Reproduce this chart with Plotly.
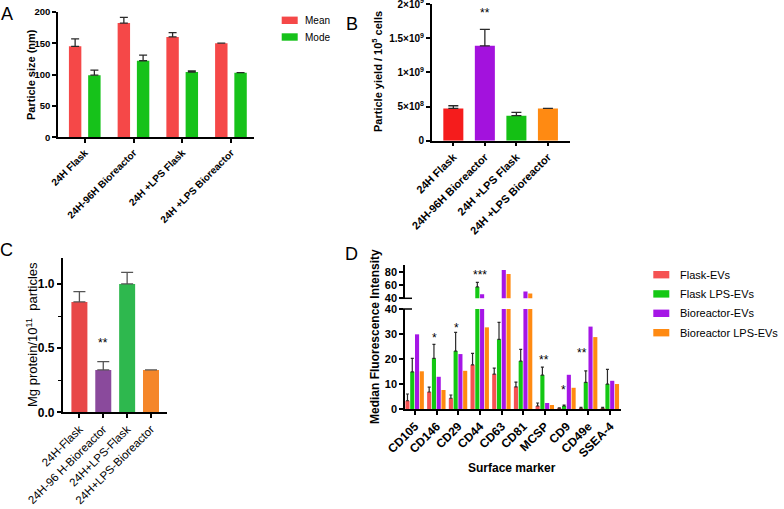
import plotly.graph_objects as go

W, H = 784, 509
def fx(p): return p / W
def fy(p): return 1 - p / H

FONT = "Liberation Sans, Arial, sans-serif"

# ---------------- data ----------------
a_groups = ["24H Flask", "24H-96H Bioreactor", "24H +LPS Flask", "24H +LPS Bioreactor"]
a_series = ["Mean", "Mode"]
a_mean = [145, 182, 160, 150]
a_mean_err = [12, 9, 7, None]
a_mode = [99, 122, 104, 103]
a_mode_err = [8, 9, 2, None]
a_yticks = [0, 50, 100, 150, 200]

b_groups = ["24H Flask", "24H-96H Bioreactor", "24H +LPS Flask", "24H +LPS Bioreactor"]
b_yield = [4.72e8, 1.39e9, 3.66e8, 4.72e8]
b_err = [0.4e8, 0.24e9, 0.5e8, None]
b_ytickvals = [0, 5e8, 1e9, 1.5e9, 2e9]
b_yticktext = ["0", "5×10<sup>8</sup>", "1×10<sup>9</sup>", "1.5×10<sup>9</sup>", "2×10<sup>9</sup>"]

c_groups = ["24H-Flask", "24H-96 H-Bioreactor", "24H+LPS-Flask", "24H+LPS-Bioreactor"]
c_protein = [0.86, 0.33, 1.0, 0.33]
c_err = [0.08, 0.065, 0.09, None]
c_yticks = [0.0, 0.5, 1.0]
c_yticktext = ["0.0", "0.5", "1.0"]

d_markers = ["CD105", "CD146", "CD29", "CD44", "CD63", "CD81", "MCSP", "CD9", "CD49e", "SSEA-4"]
d_series = ["Flask-EVs", "Flask LPS-EVs", "Bioreactor-EVs", "Bioreactor LPS-EVs"]
d_flask = [3.3, 6.8, 4.3, 17.7, 14.0, 8.9, 1.2, 0.3, 0.3, 0.3]
d_flask_err = [2.7, 2.0, 1.3, 4.6, 2.4, 1.9, 1.2, 0.2, 0.4, 0.4]
d_flask_lps = [14.9, 20.3, 23.2, 57.0, 27.9, 19.2, 13.6, 1.2, 10.7, 10.0]
d_flask_lps_err = [5.4, 5.6, 7.5, 7.0, 6.8, 4.7, 3.2, 0.4, 4.6, 5.9]
d_bio = [29.9, 12.9, 22.0, 46.0, 82.5, 50.0, 2.4, 13.7, 33.0, 11.3]
d_bio_lps = [15.1, 7.6, 15.3, 32.7, 76.5, 47.0, 1.6, 8.5, 28.8, 10.0]
d_low_ticks = [0, 10, 20, 30, 40]
d_high_ticks = [40, 60, 80]
d_star_idx = [1, 2, 6, 7, 8]
d_star_text = ["*", "*", "**", "*", "**"]
d_star_y = [28.5, 32.3, 19.7, 7.8, 22.3]
d_star_dx = [-0.12, -0.1, -0.06, -0.17, -0.28]
d_high_star_idx = 3
d_high_star_text = "***"
d_high_star_y = 74.7

# ---------------- styles ----------------
a_colors = ["#F54848", "#16C21A"]
b_colors = ["#F51C1C", "#A312DD", "#14C014", "#FF8A12"]
c_colors = ["#E84848", "#8A4A9C", "#2EB84E", "#F5862A"]
d_colors = ["#F55252", "#14C814", "#A516E6", "#FF8A12"]
ERR = "#2a2a2a"

def ax(**kw):
    base = dict(showline=True, linecolor="black", linewidth=1.5, ticks="outside",
                ticklen=4, tickwidth=1.5, tickcolor="black", showgrid=False,
                zeroline=False, fixedrange=True, automargin=False,
                ticklabeloverflow="allow",
                tickfont=dict(family=FONT, size=10, color="black", weight="bold"))
    base.update(kw)
    return base

def errs(vals):
    return dict(type="data", symmetric=False, array=vals,
                arrayminus=[0] * len(vals), color=ERR, thickness=1.3, width=4)

fig = go.Figure()

# Panel A
for name, vals, e, col, off in [(a_series[0], a_mean, a_mean_err, a_colors[0], -0.33),
                                (a_series[1], a_mode, a_mode_err, a_colors[1], 0.065)]:
    fig.add_trace(go.Bar(x=a_groups, y=vals, name=name, marker=dict(color=col, line_width=0),
                         width=0.255, offset=off, error_y=errs(e), xaxis="x", yaxis="y"))

# Panel B
fig.add_trace(go.Bar(x=b_groups, y=b_yield, marker=dict(color=b_colors, line_width=0),
                     width=0.635, error_y=dict(errs(b_err), width=5), xaxis="x2", yaxis="y2"))

# Panel C
fig.add_trace(go.Bar(x=c_groups, y=c_protein, marker=dict(color=c_colors, line_width=0),
                     width=0.67, error_y=dict(errs(c_err), color="#555", width=6),
                     xaxis="x3", yaxis="y3"))

# Panel D (broken axis: lower x4/y4, upper x5/y5)
d_vals = [d_flask, d_flask_lps, d_bio, d_bio_lps]
d_errs = [d_flask_err, d_flask_lps_err, None, None]
d_offsets = [-0.44, -0.22, 0.0, 0.22]
for xa, ya in [("x4", "y4"), ("x5", "y5")]:
    for i in range(4):
        kw = {}
        if d_errs[i] is not None:
            kw["error_y"] = dict(errs(d_errs[i]), width=1.5, thickness=1.2)
        fig.add_trace(go.Bar(x=d_markers, y=d_vals[i], name=d_series[i],
                             marker=dict(color=d_colors[i], line_width=0),
                             width=0.19, offset=d_offsets[i], xaxis=xa, yaxis=ya, **kw))

layout = dict(width=W, height=H, margin=dict(l=0, r=0, t=0, b=0, pad=0, autoexpand=False),
              paper_bgcolor="white", plot_bgcolor="white", showlegend=False,
              barmode="overlay", font=dict(family=FONT, color="black"))

# A axes
layout["xaxis"] = ax(domain=[fx(58), fx(253.5)], range=[-0.554, 3.458], anchor="y",
                     tickangle=-45, type="category")
layout["yaxis"] = ax(domain=[fy(137.3), fy(11.7)], range=[0, 200.2], anchor="x",
                     tickvals=a_yticks,
                     tickfont=dict(family=FONT, size=9.5, color="black", weight="bold"))
# B axes
layout["xaxis2"] = ax(domain=[fx(431.7), fx(570)], range=[-0.686, 3.7], anchor="y2",
                      tickangle=-45, type="category",
                      tickfont=dict(family=FONT, size=11, color="black", weight="bold"))
layout["yaxis2"] = ax(domain=[fy(140.7), fy(4)], range=[0, 2.002e9], anchor="x2",
                      tickvals=b_ytickvals, ticktext=b_yticktext,
                      tickfont=dict(family=FONT, size=10, color="black", weight="bold"))
# C axes
layout["xaxis3"] = ax(domain=[fx(62.7), fx(167)], range=[-0.7, 3.67], anchor="y3",
                      tickangle=-45, type="category",
                      tickfont=dict(family=FONT, size=11.5, color="black"))
layout["yaxis3"] = ax(domain=[fy(412.3), fy(258.3)], range=[0, 1.2], anchor="x3",
                      tickvals=c_yticks, ticktext=c_yticktext,
                      tickfont=dict(family=FONT, size=12, color="black", weight="bold"),
                      minor=dict(dtick=0.25, ticks="outside", ticklen=3, tickwidth=1.3,
                                 tickcolor="black"))
# D axes
layout["xaxis4"] = ax(domain=[fx(405), fx(621)], range=[-0.46, 9.5], anchor="y4",
                      tickangle=-45, type="category",
                      tickfont=dict(family=FONT, size=12, color="black", weight="bold"))
layout["yaxis4"] = ax(domain=[fy(409), fy(309)], range=[0, 40.05], anchor="x4",
                      tickvals=d_low_ticks,
                      tickfont=dict(family=FONT, size=11, color="black", weight="bold"))
layout["xaxis5"] = dict(domain=[fx(405), fx(621)], range=[-0.46, 9.5], anchor="y5",
                        type="category", showticklabels=False, showline=False, ticks="",
                        showgrid=False, zeroline=False, fixedrange=True, automargin=False)
layout["yaxis5"] = ax(domain=[fy(298.3), fy(265)], range=[39.95, 90], anchor="x5",
                      tickvals=d_high_ticks,
                      tickfont=dict(family=FONT, size=11, color="black", weight="bold"))

annotations = []
def txt(x, y, text, size, bold=False, angle=0, xanchor="center", yanchor="middle",
        xref="paper", yref="paper"):
    annotations.append(dict(x=x, y=y, text=text, showarrow=False, textangle=angle,
                            xanchor=xanchor, yanchor=yanchor, xref=xref, yref=yref,
                            font=dict(family=FONT, size=size, color="black",
                                      weight="bold" if bold else "normal")))

# panel letters
txt(fx(7), fy(14), "A", 18)
txt(fx(352), fy(24), "B", 18)
txt(fx(6), fy(250), "C", 18)
txt(fx(351), fy(254), "D", 18)

# axis titles
txt(fx(31), fy(75), "Particle size (nm)", 11, bold=True, angle=-90)
txt(fx(377), fy(72), "Particle yield / 10<sup>5</sup> cells", 11, bold=True, angle=-90)
txt(fx(32), fy(335), "Mg protein/10<sup>11</sup>  particles", 13, angle=-90)
txt(fx(375), fy(337), "Median Fluorescence Intensity", 12, bold=True, angle=-90)
txt(fx(512), fy(468), "Surface marker", 12, bold=True)

# significance stars
txt(1, 1.874e9, "**", 12, xref="x2", yref="y2")
txt(1, 0.54, "**", 12, xref="x3", yref="y3")
for i, t, y, dx in zip(d_star_idx, d_star_text, d_star_y, d_star_dx):
    txt(i + dx, y, t, 12, xref="x4", yref="y4")
txt(d_high_star_idx, d_high_star_y, d_high_star_text, 12, xref="x5", yref="y5")

shapes = []
# legend A
for k, (name, col) in enumerate(zip(a_series, a_colors)):
    cy = [20.3, 37.0][k]
    shapes.append(dict(type="rect", xref="paper", yref="paper", x0=fx(281.7), x1=fx(297.7),
                       y0=fy(cy + 3.7), y1=fy(cy - 3.7), fillcolor=col, line_width=0))
    txt(fx(302.7), fy(cy), name, 10, xanchor="left")
# legend D
for k, (name, col) in enumerate(zip(d_series, d_colors)):
    cy = [274.7, 293.9, 313.3, 332.7][k]
    shapes.append(dict(type="rect", xref="paper", yref="paper", x0=fx(653.3), x1=fx(669.3),
                       y0=fy(cy + 3.7), y1=fy(cy - 3.7), fillcolor=col, line_width=0))
    txt(fx(678.3), fy(cy), name, 11, xanchor="left")

# axis break marks on D
for py in (298.3, 309):
    shapes.append(dict(type="line", xref="paper", yref="paper", x0=fx(400), x1=fx(412),
                       y0=fy(py), y1=fy(py), line=dict(color="black", width=1.5)))

layout["annotations"] = annotations
layout["shapes"] = shapes
fig.update_layout(**layout)
fig.write_html("out.html", config={"displayModeBar": False},
               post_script="document.body.style.margin='0px';document.body.style.padding='0px';")
